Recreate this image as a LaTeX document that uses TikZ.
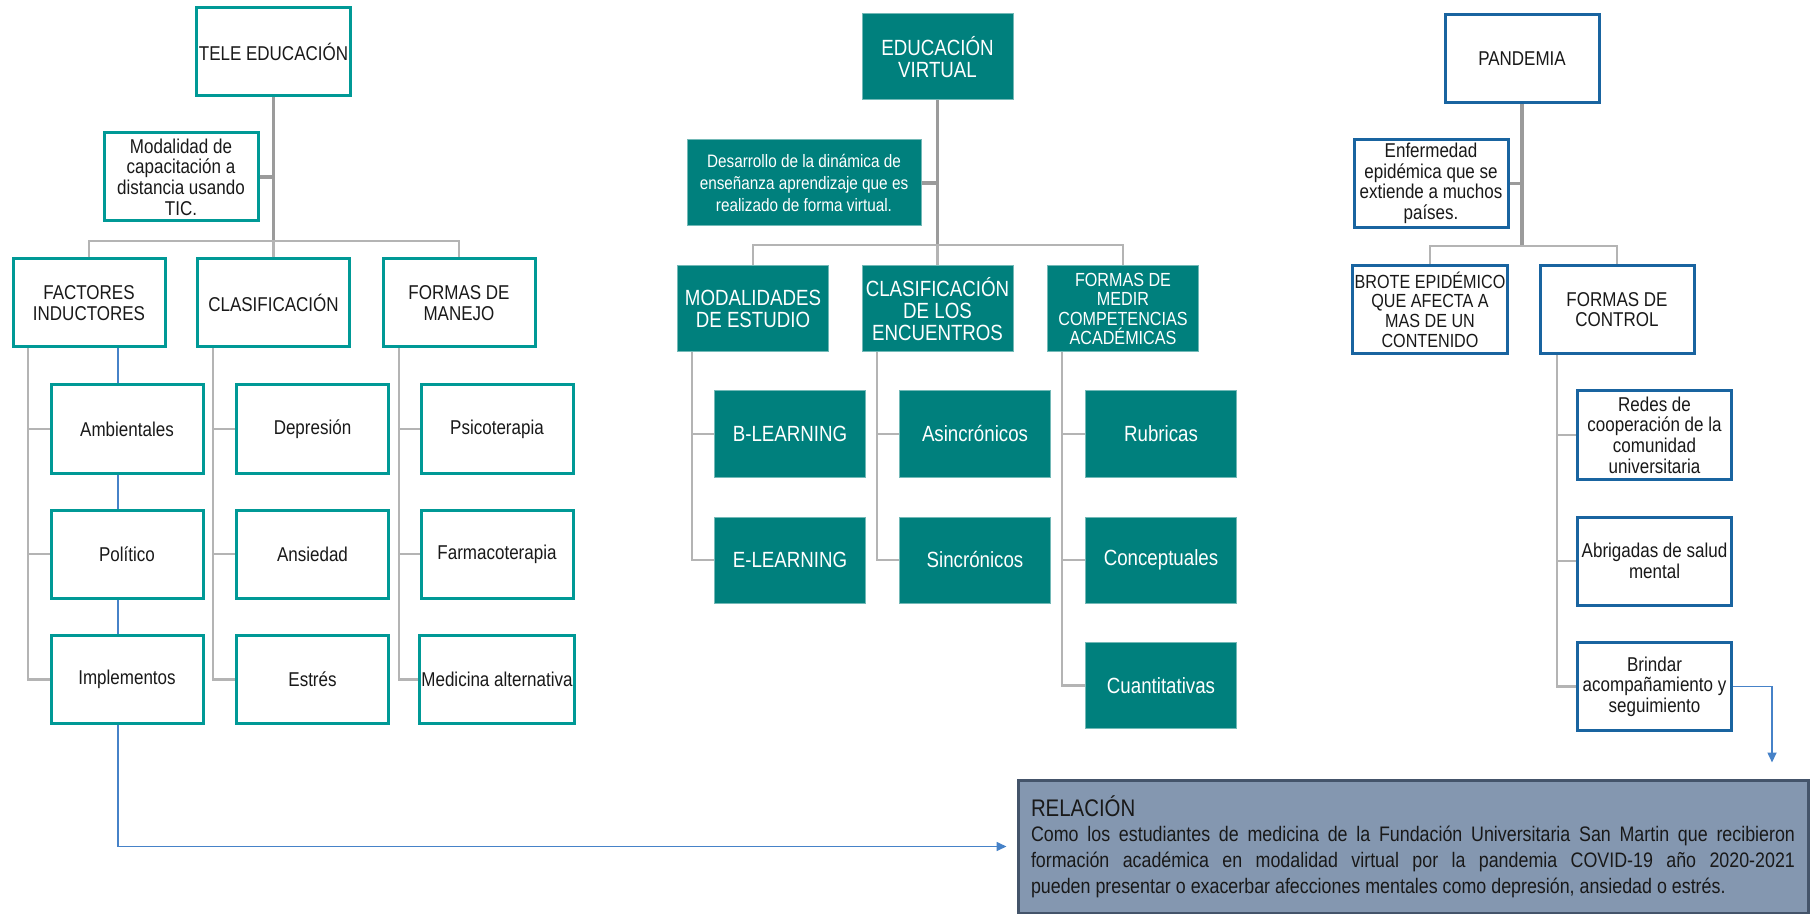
\documentclass[tikz,border=0pt]{standalone}
\usepackage{fontspec}
\setmainfont{Liberation Sans}[FakeStretch=0.85]
\usetikzlibrary{arrows.meta}
\definecolor{tealB}{RGB}{0,153,150}
\definecolor{tealF}{RGB}{0,128,125}
\definecolor{blueB}{RGB}{25,100,160}
\definecolor{lineG}{RGB}{180,180,180}
\definecolor{trunkG}{RGB}{155,155,155}
\definecolor{arrB}{RGB}{70,130,200}
\definecolor{relF}{RGB}{132,151,176}
\definecolor{relB}{RGB}{68,84,106}
\definecolor{txt}{RGB}{25,25,25}
\begin{document}
\begin{tikzpicture}[x=0.5pt,y=-0.5pt,
  every node/.style={inner sep=1pt, align=center},
  tbox/.style={draw=tealB, line width=1.5pt, fill=white, text=txt, minimum width=76pt, minimum height=44pt, font=\fontsize{10}{10.3}\selectfont},
  fbox/.style={draw=tealF!55!white, line width=0.5pt, fill=tealF, text=white, minimum width=75.5pt, minimum height=43pt, font=\fontsize{11}{11}\selectfont},
  bbox/.style={draw=blueB, line width=1.5pt, fill=white, text=txt, minimum width=77pt, minimum height=44pt, font=\fontsize{10}{10.3}\selectfont},
  conn/.style={draw=lineG, line width=1.4pt},
  trunk/.style={draw=trunkG, line width=1.6pt},
  bline/.style={draw=arrB, line width=0.8pt},
  barr/.style={draw=arrB, line width=0.8pt, -{Triangle[length=5pt,width=4.5pt]}, shorten >=5pt},
  rel/.style={draw=relB, line width=1.5pt, fill=relF, text=txt, minimum width=395pt, minimum height=66.5pt, text width=382pt, align=justify, inner sep=0pt}
]
\useasboundingbox (0,0) rectangle (1814,914);

% ---------------- left tree ----------------
\node[tbox] (tele) at (273.5,52) {TELE EDUCACIÓN};
\node[tbox, minimum width=77pt] (modal) at (181,177) {Modalidad de\\capacitación a\\distancia usando\\TIC.};
\node[tbox] (fact) at (89,303) {FACTORES\\INDUCTORES};
\node[tbox] (clas) at (273.5,303) {CLASIFICACIÓN};
\node[tbox] (form) at (459,303) {FORMAS DE\\MANEJO};
\node[tbox] (amb) at (127,429) {Ambientales};
\node[tbox] (pol) at (127,554) {Político};
\node[tbox] (imp) at (127,679.5) {Implementos};
\node[tbox] (dep) at (312.5,429) {Depresión};
\node[tbox] (ans) at (312.5,554) {Ansiedad};
\node[tbox] (est) at (312.5,679.5) {Estrés};
\node[tbox] (psi) at (497,429) {Psicoterapia};
\node[tbox] (far) at (497,554) {Farmacoterapia};
\node[tbox] (med) at (497,679.5) {Medicina alternativa};

% ---------------- middle tree ----------------
\node[fbox] (ev) at (937.5,57) {EDUCACIÓN\\VIRTUAL};
\node[fbox, minimum width=117pt, font=\fontsize{9}{11}\selectfont] (des) at (804,183) {Desarrollo de la dinámica de\\enseñanza aprendizaje que es\\realizado de forma virtual.};
\node[fbox] (mod) at (753,309) {MODALIDADES\\DE ESTUDIO};
\node[fbox] (cle) at (937.5,309) {CLASIFICACIÓN\\DE LOS\\ENCUENTROS};
\node[fbox, font=\fontsize{9.5}{9.6}\selectfont] (fmc) at (1123,309) {FORMAS DE\\MEDIR\\COMPETENCIAS\\ACADÉMICAS};
\node[fbox] (bl) at (790,434) {B-LEARNING};
\node[fbox] (el) at (790,560) {E-LEARNING};
\node[fbox] (asi) at (975,434) {Asincrónicos};
\node[fbox] (sin) at (975,560) {Sincrónicos};
\node[fbox] (rub) at (1161,434) {Rubricas};
\node[fbox] (con) at (1161,560) {Conceptuales};
\node[fbox] (cua) at (1161,685.5) {Cuantitativas};

% ---------------- right tree ----------------
\node[bbox] (pan) at (1522,59) {PANDEMIA};
\node[bbox] (enf) at (1431,183.5) {Enfermedad\\epidémica que se\\extiende a muchos\\países.};
\node[bbox, font=\fontsize{9.5}{9.8}\selectfont] (bro) at (1430,309.5) {BROTE EPIDÉMICO\\QUE AFECTA A\\MAS DE UN\\CONTENIDO};
\node[bbox] (fco) at (1617,309.5) {FORMAS DE\\CONTROL};
\node[bbox] (red) at (1654.5,435) {Redes de\\cooperación de la\\comunidad\\universitaria};
\node[bbox] (abr) at (1654.5,561) {Abrigadas de salud\\mental};
\node[bbox] (bri) at (1654.5,686.5) {Brindar\\acompañamiento y\\seguimiento};

% ---------------- relation box ----------------
\node[rel] (rel) at (1413,846.5) {{\fontsize{12}{14}\selectfont RELACIÓN}\\
{\fontsize{10.5}{12.8}\selectfont Como los estudiantes de medicina de la Fundación Universitaria San Martin que recibieron\linebreak formación académica en modalidad virtual por la pandemia COVID-19 año 2020-2021\linebreak pueden presentar o exacerbar afecciones mentales como depresión, ansiedad o estrés.\par}};

% ---------------- coordinates ----------------
\coordinate (lb) at (273.5,241);
\coordinate (c1) at (28,0);
\coordinate (c2) at (213,0);
\coordinate (c3) at (399,0);
\coordinate (bx) at (118,0);
\coordinate (mb) at (937.5,245);
\coordinate (m1) at (692,0);
\coordinate (m2) at (877,0);
\coordinate (m3) at (1062,0);
\coordinate (rb) at (1522,246);
\coordinate (r1) at (1557,0);
\coordinate (ra) at (1772,0);

% ---------------- left connectors ----------------
\begin{scope}[on background layer/.try]
\draw[trunk] (tele.south) -- (lb);
\draw[trunk] (modal.east) -- (modal.east -| lb);
\draw[conn] (fact.north) |- (lb) -| (form.north);
\draw[conn] (clas.north) -- (lb);
\draw[conn] (fact.south -| c1) |- (imp.west);
\draw[conn] (amb.west) -- (amb.west -| c1);
\draw[conn] (pol.west) -- (pol.west -| c1);
\draw[conn] (clas.south -| c2) |- (est.west);
\draw[conn] (dep.west) -- (dep.west -| c2);
\draw[conn] (ans.west) -- (ans.west -| c2);
\draw[conn] (form.south -| c3) |- (med.west);
\draw[conn] (psi.west) -- (psi.west -| c3);
\draw[conn] (far.west) -- (far.west -| c3);
\draw[bline] (fact.south -| bx) -- (amb.north -| bx);
\draw[bline] (amb.south -| bx) -- (pol.north -| bx);
\draw[bline] (pol.south -| bx) -- (imp.north -| bx);
\draw[barr] (imp.south -| bx) |- (rel.west);

% ---------------- middle connectors ----------------
\draw[trunk] (ev.south) -- (mb);
\draw[trunk] (des.east) -- (des.east -| mb);
\draw[conn] (mod.north) |- (mb) -| (fmc.north);
\draw[conn] (cle.north) -- (mb);
\draw[conn] (mod.south -| m1) |- (el.west);
\draw[conn] (bl.west) -- (bl.west -| m1);
\draw[conn] (cle.south -| m2) |- (sin.west);
\draw[conn] (asi.west) -- (asi.west -| m2);
\draw[conn] (fmc.south -| m3) |- (cua.west);
\draw[conn] (rub.west) -- (rub.west -| m3);
\draw[conn] (con.west) -- (con.west -| m3);

% ---------------- right connectors ----------------
\draw[trunk] (pan.south) -- (rb);
\draw[trunk] (enf.east) -- (enf.east -| rb);
\draw[conn] (bro.north) |- (rb) -| (fco.north);
\draw[conn] (fco.south -| r1) |- (bri.west);
\draw[conn] (red.west) -- (red.west -| r1);
\draw[conn] (abr.west) -- (abr.west -| r1);
\draw[barr, shorten >=8pt] (bri.east) -| (rel.north -| ra);
\end{scope}
\end{tikzpicture}
\end{document}
